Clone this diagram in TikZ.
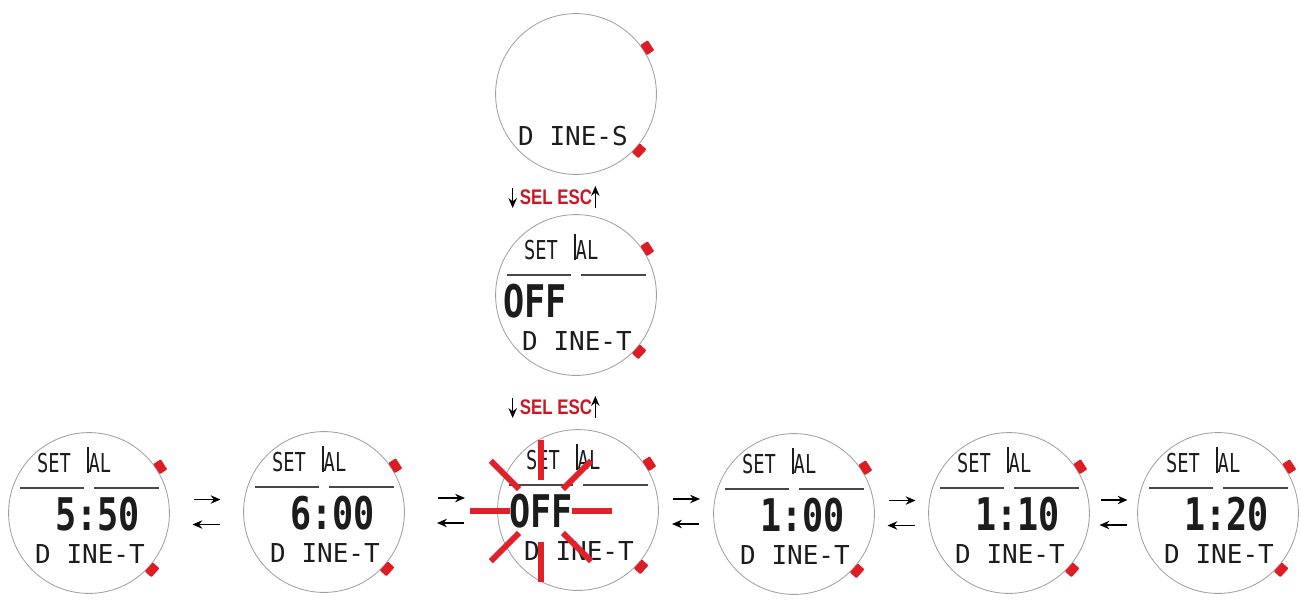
\documentclass[tikz,border=0pt]{standalone}
\usepackage{fontspec}
\usetikzlibrary{calc,arrows.meta}
\newfontfamily\lcdfont{DejaVu Sans Mono}
\newfontfamily\keyfont{Liberation Sans}
\definecolor{buttonred}{RGB}{222,28,36}
\definecolor{flashred}{RGB}{226,32,42}
\definecolor{keyred}{RGB}{206,22,34}
\definecolor{rimgray}{RGB}{160,160,160}
\definecolor{segblack}{RGB}{28,28,28}

\begin{document}
\begin{tikzpicture}[x=0.025cm, y=-0.025cm,
    watch/.style={circle, draw=rimgray, line width=0.6pt, minimum size=4.02cm, inner sep=0pt},
    button/.style={fill=buttonred, minimum width=0.22cm, minimum height=0.3cm, inner sep=0pt, rounded corners=0.6pt},
    lcd/.style={font={\lcdfont\fontsize{18.5pt}{20pt}\selectfont}, text=segblack, inner sep=0pt, xscale=0.72},
    digits/.style={font={\lcdfont\bfseries\fontsize{32pt}{33pt}\selectfont}, text=segblack, inner sep=0pt, xscale=0.78},
    modetext/.style={font={\lcdfont\fontsize{18.5pt}{20pt}\selectfont}, text=segblack, inner sep=0pt},
    keys/.style={font={\keyfont\bfseries\fontsize{15pt}{16pt}\selectfont}, text=keyred, inner sep=0pt, xscale=0.8},
    bar/.style={draw=segblack, line width=1.5pt},
    divider/.style={draw=black!72, line width=1.5pt},
    arr/.style={draw=black, line width=1.1pt, -{Stealth[length=7pt,width=6pt]}},
    ray/.style={draw=flashred, line width=0.145cm}]
    \useasboundingbox (0,0) rectangle (1301,600);

    % Mode screen at the top
    \node[watch] (t1) at (576,94) {};
    \node[button, rotate=33] (t1-top) at ($(t1)+(-33:85)$) {};
    \node[button, rotate=-42] (t1-bot) at ($(t1)+(42:85)$) {};
    \node[modetext] (t1-mode) at (573,136) {D INE-S};

    % Alarm screens: name/x/y/content y/value/value x/anchor
    \foreach \n/\x/\y/\cy/\val/\bx/\anc in {t2/576/295/300/OFF/-73/west, w1/89/513/513/5:50/51/east, w2/324/512/512/6:00/51/east, w3/578/510/510/OFF/-69/west, w4/794/514/514/1:00/51/east, w5/1009/513/513/1:10/51/east, w6/1218/513/513/1:20/51/east} {
        \node[watch] (\n) at (\x,\y) {};
        % buttons
        \node[button, rotate=33] (\n-top) at ($(\n)+(-33:85)$) {};
        \node[button, rotate=-42] (\n-bot) at ($(\n)+(42:85)$) {};
        % display
        \node[lcd] (\n-set) at (\x-35,\cy-50) {SET};
        \draw[bar] (\x-1,\cy-66) -- (\x-1,\cy-40);
        \node[lcd] (\n-al) at (\x+11,\cy-50) {AL};
        \draw[divider] (\x-69,\cy-25) -- (\x-5,\cy-25);
        \draw[divider] (\x+5,\cy-25) -- (\x+70,\cy-25);
        \node[digits, anchor=\anc] (\n-val) at (\x+\bx,\cy+1) {\val};
        \node[modetext] (\n-mode) at (\x+1,\cy+41) {D INE-T};
    }

    % Flashing value
    \coordinate (flash) at ($(w3)+(-37,1)$);
    \foreach \a in {0,45,...,315}
        \draw[ray] ($(flash)+(\a:31)$) -- ($(flash)+(\a:71)$);

    % SEL / ESC keys
    \node[keys] (sel1) at (556,197) {SEL ESC};
    \draw[arr] ($(sel1.west)+(-7,-9)$) -- ($(sel1.west)+(-7,11)$);
    \draw[arr] ($(sel1.east)+(3,11)$) -- ($(sel1.east)+(3,-11)$);
    \node[keys] (sel2) at (556,407) {SEL ESC};
    \draw[arr] ($(sel2.west)+(-7,-9)$) -- ($(sel2.west)+(-7,11)$);
    \draw[arr] ($(sel2.east)+(3,11)$) -- ($(sel2.east)+(3,-11)$);

    % Arrows between screens
    \foreach \a/\b in {w1/w2, w2/w3, w3/w4, w4/w5, w5/w6} {
        \coordinate (\a\b) at ($(\a)!0.5!(\b)$);
        \draw[arr] ($(\a\b)+(-13,-13)$) -- ($(\a\b)+(14,-13)$);
        \draw[arr] ($(\a\b)+(13,12)$) -- ($(\a\b)+(-14,12)$);
    }

\end{tikzpicture}
\end{document}
